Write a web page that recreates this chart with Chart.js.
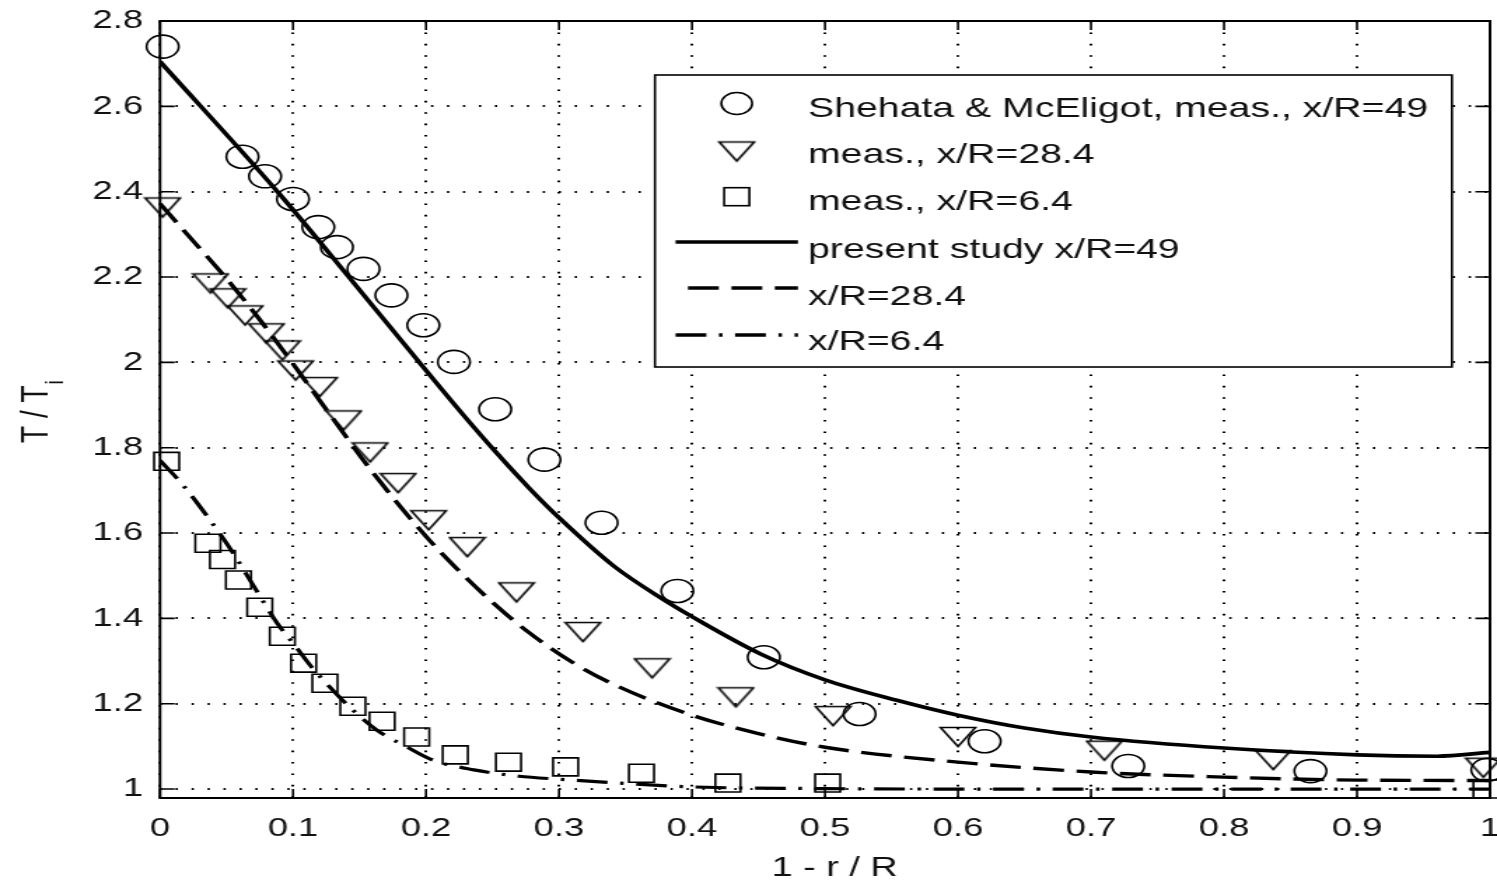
<!DOCTYPE html>
<html>
<head>
<meta charset="utf-8">
<script src="https://cdn.jsdelivr.net/npm/chart.js@4.4.1/dist/chart.umd.min.js"></script>
<style>
html,body{margin:0;padding:0;background:#fff;overflow:hidden}
</style>
</head>
<body>
<canvas id="c" width="1069" height="882" style="display:block;width:1497px;height:882px"></canvas>
<script>
// ---------- data ----------
const xTicks = [0, 0.1, 0.2, 0.3, 0.4, 0.5, 0.6, 0.7, 0.8, 0.9, 1];
const yTicks = [1, 1.2, 1.4, 1.6, 1.8, 2, 2.2, 2.4, 2.6, 2.8];

const circX = [0.002, 0.062, 0.079, 0.100, 0.119, 0.133, 0.153, 0.174, 0.198, 0.221, 0.252, 0.289, 0.332, 0.389, 0.454, 0.526, 0.620, 0.728, 0.865, 0.998];
const circY = [2.740, 2.482, 2.436, 2.383, 2.317, 2.270, 2.219, 2.157, 2.087, 2.001, 1.890, 1.772, 1.624, 1.464, 1.309, 1.176, 1.112, 1.054, 1.042, 1.045];

const triX = [0.002, 0.038, 0.051, 0.064, 0.080, 0.092, 0.102, 0.120, 0.138, 0.158, 0.179, 0.202, 0.231, 0.268, 0.318, 0.370, 0.433, 0.506, 0.600, 0.710, 0.837, 0.995];
const triY = [2.363, 2.185, 2.150, 2.110, 2.068, 2.028, 1.981, 1.942, 1.864, 1.789, 1.717, 1.630, 1.567, 1.461, 1.368, 1.283, 1.215, 1.171, 1.122, 1.090, 1.068, 1.050];

const sqX = [0.005, 0.036, 0.047, 0.059, 0.075, 0.092, 0.108, 0.124, 0.145, 0.167, 0.193, 0.222, 0.262, 0.305, 0.362, 0.427, 0.502, 0.997];
const sqY = [1.768, 1.576, 1.538, 1.490, 1.426, 1.358, 1.295, 1.248, 1.194, 1.159, 1.122, 1.080, 1.063, 1.052, 1.037, 1.014, 1.014, 1.000];

const solidX = [0, 0.09, 0.141, 0.195, 0.228, 0.253, 0.278, 0.301, 0.341, 0.378, 0.4, 0.452, 0.5, 0.554, 0.6, 0.65, 0.7, 0.8, 0.9, 0.96, 1.0];
const solidY = [2.705, 2.394, 2.204, 2.000, 1.877, 1.788, 1.704, 1.633, 1.523, 1.445, 1.404, 1.316, 1.256, 1.208, 1.173, 1.143, 1.122, 1.096, 1.080, 1.077, 1.086];

const dashX = [0, 0.019, 0.04, 0.053, 0.075, 0.098, 0.123, 0.16, 0.2, 0.223, 0.248, 0.276, 0.31, 0.344, 0.4, 0.45, 0.5, 0.6, 0.7, 0.8, 0.9, 1.0];
const dashY = [2.372, 2.305, 2.232, 2.185, 2.100, 2.005, 1.898, 1.742, 1.592, 1.517, 1.443, 1.370, 1.297, 1.241, 1.173, 1.130, 1.098, 1.063, 1.040, 1.028, 1.021, 1.020];

const dotX = [0, 0.016, 0.04, 0.055, 0.07, 0.088, 0.1, 0.114, 0.125, 0.145, 0.163, 0.186, 0.205, 0.236, 0.27, 0.3, 0.35, 0.4, 0.5, 0.6, 0.8, 1.0];
const dotY = [1.770, 1.717, 1.620, 1.553, 1.478, 1.389, 1.342, 1.286, 1.248, 1.185, 1.138, 1.098, 1.068, 1.045, 1.030, 1.023, 1.013, 1.005, 1.001, 1.000, 1.000, 1.000];

const labels = [
  'Shehata & McEligot, meas., x/R=49',
  'meas., x/R=28.4',
  'meas., x/R=6.4',
  'present study x/R=49',
  'x/R=28.4',
  'x/R=6.4'
];
const xTitle = '1 - r / R';
const yTitleMain = 'T / T';
const yTitleSub = 'i';

// ---------- helpers ----------
const pts = (xs, ys) => xs.map((x, i) => ({x: x, y: ys[i]}));
const FONT = "'Liberation Sans', Arial, Helvetica, sans-serif";
const INK = '#111';

function triImg() {
  const c = document.createElement('canvas');
  c.width = 28; c.height = 24;
  const g = c.getContext('2d');
  g.strokeStyle = '#000'; g.lineWidth = 1.6; g.lineJoin = 'miter';
  g.beginPath(); g.moveTo(1.5, 2.5); g.lineTo(26.5, 2.5); g.lineTo(14, 21.5); g.closePath(); g.stroke();
  return c;
}
const TRI = triImg();

const DASH = [22, 9];
const DASHDOT = [22, 9, 2.5, 9];

const framePlugin = {
  id: 'frame',
  beforeDatasetsDraw(chart) {
    const {ctx, chartArea: a, scales: {x, y}} = chart;
    ctx.save();
    ctx.strokeStyle = '#000';
    ctx.lineWidth = 1.6;
    ctx.beginPath();
    xTicks.forEach(v => {
      const px = x.getPixelForValue(v);
      ctx.moveTo(px, a.bottom); ctx.lineTo(px, a.bottom - 9);
      ctx.moveTo(px, a.top); ctx.lineTo(px, a.top + 9);
    });
    yTicks.forEach(v => {
      const py = y.getPixelForValue(v);
      ctx.moveTo(a.left, py); ctx.lineTo(a.left + 10.5, py);
      ctx.moveTo(a.right, py); ctx.lineTo(a.right - 10.5, py);
    });
    ctx.stroke();
    ctx.lineWidth = 2;
    ctx.strokeRect(a.left, a.top, a.right - a.left, a.bottom - a.top);
    ctx.restore();
  },
  afterDraw(chart) {
    const ctx = chart.ctx;
    ctx.save();
    ctx.fillStyle = INK;
    // x title
    ctx.font = '27px ' + FONT;
    ctx.textAlign = 'center';
    ctx.textBaseline = 'middle';
    ctx.fillText(xTitle, 596, 869);
    // y title with subscript
    ctx.save();
    ctx.translate(34, 443);
    ctx.rotate(-Math.PI / 2);
    ctx.textAlign = 'left';
    ctx.textBaseline = 'alphabetic';
    ctx.font = '28px ' + FONT;
    ctx.fillText(yTitleMain, 0, 0);
    const w = ctx.measureText(yTitleMain).width;
    ctx.font = '19px ' + FONT;
    ctx.fillText(yTitleSub, w + 1, 11);
    ctx.restore();

    // legend
    const L = 467.7, R = 1036.8, T = 75, B = 367;
    ctx.fillStyle = '#fff';
    ctx.fillRect(L, T, R - L, B - T);
    ctx.strokeStyle = '#000';
    ctx.lineWidth = 1.6;
    ctx.strokeRect(L, T, R - L, B - T);

    const mx = 526.1;
    ctx.lineWidth = 1.6;
    ctx.beginPath(); ctx.arc(mx, 103.5, 11, 0, Math.PI * 2); ctx.stroke();
    ctx.drawImage(TRI, mx - TRI.width / 2, 151.5 - TRI.height / 2);
    ctx.strokeRect(mx - 9, 196.7 - 9, 18, 18);
    ctx.lineWidth = 3.4;
    ctx.lineCap = 'butt';
    ctx.beginPath(); ctx.moveTo(482.4, 242); ctx.lineTo(569.8, 242); ctx.stroke();
    ctx.setLineDash(DASH);
    ctx.beginPath(); ctx.moveTo(491.3, 288); ctx.lineTo(569.8, 288); ctx.stroke();
    ctx.setLineDash(DASHDOT);
    ctx.beginPath(); ctx.moveTo(482.4, 335); ctx.lineTo(569.8, 335); ctx.stroke();
    ctx.setLineDash([]);

    ctx.fillStyle = INK;
    ctx.font = '28px ' + FONT;
    ctx.textAlign = 'left';
    ctx.textBaseline = 'alphabetic';
    const ys = [116.7, 163, 210, 258, 305, 350];
    labels.forEach((t, i) => ctx.fillText(t, 577, ys[i]));
    ctx.restore();
  }
};

const gridOpts = {
  display: true,
  drawTicks: false,
  color: '#000',
  lineWidth: 2
};

new Chart(document.getElementById('c'), {
  type: 'scatter',
  data: {
    datasets: [
      { label: labels[0], data: pts(circX, circY), showLine: false, pointStyle: 'circle', pointRadius: 11.5,
        pointBorderWidth: 1.6, pointBorderColor: '#000', pointBackgroundColor: 'rgba(0,0,0,0)', clip: false },
      { label: labels[1], data: pts(triX, triY), showLine: false, pointStyle: TRI, pointRadius: 12,
        pointBorderColor: '#000', clip: false },
      { label: labels[2], data: pts(sqX, sqY), showLine: false, pointStyle: 'rect', pointRadius: 12.7,
        pointBorderWidth: 1.6, pointBorderColor: '#000', pointBackgroundColor: 'rgba(0,0,0,0)', clip: false },
      { label: labels[3], data: pts(solidX, solidY), showLine: true, pointRadius: 0, borderColor: '#000',
        borderWidth: 3.6, cubicInterpolationMode: 'monotone', fill: false },
      { label: labels[4], data: pts(dashX, dashY), showLine: true, pointRadius: 0, borderColor: '#000',
        borderWidth: 3.4, borderDash: DASH, cubicInterpolationMode: 'monotone', fill: false },
      { label: labels[5], data: pts(dotX, dotY), showLine: true, pointRadius: 0, borderColor: '#000',
        borderWidth: 3.2, borderDash: DASHDOT, cubicInterpolationMode: 'monotone', fill: false }
    ]
  },
  options: {
    responsive: false,
    animation: false,
    devicePixelRatio: 1,
    events: [],
    layout: { autoPadding: false, padding: { top: 21, right: 5, left: 0, bottom: 0 } },
    plugins: { legend: { display: false }, tooltip: { enabled: false }, title: { display: false } },
    scales: {
      x: {
        type: 'linear', min: 0, max: 1,
        afterBuildTicks: s => { s.ticks = xTicks.map(v => ({value: v})); },
        afterFit: s => { s.height = 84; s.paddingLeft = 0; s.paddingRight = 0; },
        grid: gridOpts,
        border: { display: false, dash: [1.6, 9.8] },
        ticks: { color: INK, font: { family: FONT, size: 26 }, padding: 15, maxRotation: 0, autoSkip: false,
                 callback: v => String(+(+v).toFixed(1)) }
      },
      y: {
        type: 'linear', min: 0.979, max: 2.8,
        afterBuildTicks: s => { s.ticks = yTicks.map(v => ({value: v})); },
        afterFit: s => { s.width = 114.25; s.paddingTop = 0; s.paddingBottom = 0; },
        grid: gridOpts,
        border: { display: false, dash: [1.6, 9.8] },
        ticks: { color: INK, font: { family: FONT, size: 26 }, padding: 12, autoSkip: false,
                 callback: v => String(+(+v).toFixed(1)) }
      }
    }
  },
  plugins: [framePlugin]
});
</script>
</body>
</html>
